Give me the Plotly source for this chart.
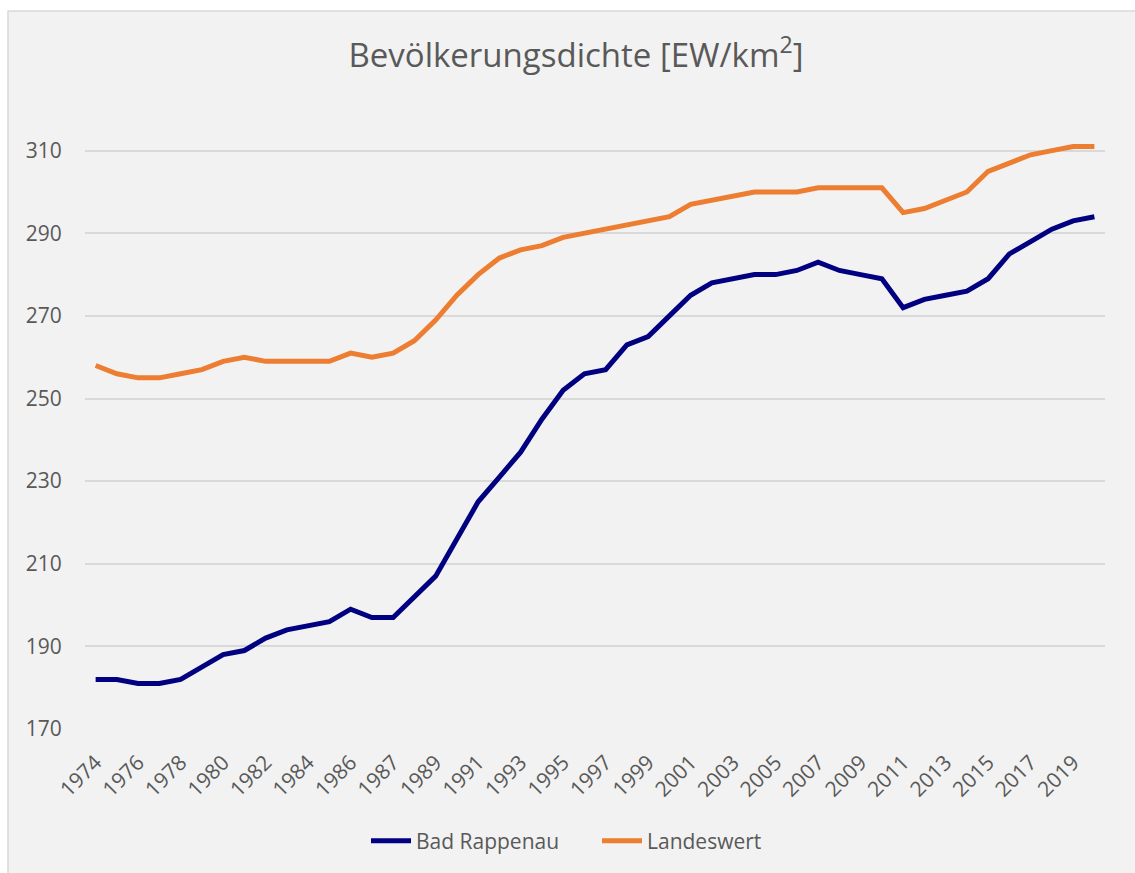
import plotly.graph_objects as go

# Category labels (index 13 is a second census-year entry between 1986 and 1987)
years = ["1974", "1975", "1976", "1977", "1978", "1979", "1980", "1981", "1982", "1983",
         "1984", "1985", "1986", "1987", "1987", "1988", "1989", "1990", "1991", "1992",
         "1993", "1994", "1995", "1996", "1997", "1998", "1999", "2000", "2001", "2002",
         "2003", "2004", "2005", "2006", "2007", "2008", "2009", "2010", "2011", "2012",
         "2013", "2014", "2015", "2016", "2017", "2018", "2019", "2020"]

bad_rappenau = [182, 182, 181, 181, 182, 185, 188, 189, 192, 194,
                195, 196, 199, 197, 197, 202, 207, 216, 225, 231,
                237, 245, 252, 256, 257, 263, 265, 270, 275, 278,
                279, 280, 280, 281, 283, 281, 280, 279, 272, 274,
                275, 276, 279, 285, 288, 291, 293, 294]

landeswert = [258, 256, 255, 255, 256, 257, 259, 260, 259, 259,
              259, 259, 261, 260, 261, 264, 269, 275, 280, 284,
              286, 287, 289, 290, 291, 292, 293, 294, 297, 298,
              299, 300, 300, 300, 301, 301, 301, 301, 295, 296,
              298, 300, 305, 307, 309, 310, 311, 311]

y_ticks = [170, 190, 210, 230, 250, 270, 290, 310]

title_text = "Bevölkerungsdichte [EW/km<sup>2</sup>]"

idx = list(range(len(years)))
tick_idx = idx[::2]
tick_txt = [years[i] for i in tick_idx]

FONT = "Open Sans"
TXT = "#595959"
W, H = 1135, 873
L, R, T, B = 85, 30, 130, 144
ymin, ymax = 170, 315

fig = go.Figure()
fig.add_trace(go.Scatter(x=idx, y=bad_rappenau, mode="lines", name="Bad Rappenau",
                         line=dict(color="#000080", width=5)))
fig.add_trace(go.Scatter(x=idx, y=landeswert, mode="lines", name="Landeswert",
                         line=dict(color="#ED7D31", width=5)))

pw = W - L - R
ph = H - T - B
# outer chart border (from x=8, y=11 in pixels to beyond the page edge)
x0 = (8 - L) / pw
x1 = (W + 10 - L) / pw
y1 = (H - B - 11) / ph
y0 = (H - B - (H + 10)) / ph
fig.add_shape(type="rect", xref="paper", yref="paper", x0=x0, x1=x1, y0=y0, y1=y1,
              fillcolor="#f2f2f2", line=dict(color="#d9d9d9", width=1.5), layer="below")

fig.update_layout(
    width=W, height=H,
    margin=dict(l=L, r=R, t=T, b=B),
    paper_bgcolor="white",
    plot_bgcolor="rgba(0,0,0,0)",
    font=dict(family=FONT, color=TXT),
    title=dict(text=title_text, x=(576 - L) / pw, xref="paper", xanchor="center",
               y=1 - 55 / H, yref="container", yanchor="middle",
               font=dict(family=FONT, size=33, color=TXT)),
    showlegend=True,
    legend=dict(orientation="h", x=(597 - L) / pw, xanchor="center",
                y=1 - 841 / H, yref="container", yanchor="middle",
                font=dict(family=FONT, size=21, color=TXT),
                bgcolor="rgba(0,0,0,0)", itemwidth=40, entrywidth=176),
    xaxis=dict(range=[-0.5, len(years) - 0.5], tickmode="array", tickvals=tick_idx,
               ticktext=tick_txt, tickangle=-45, showgrid=False, zeroline=False,
               showline=False, ticks="outside", ticklen=12, tickcolor="rgba(0,0,0,0)",
               tickfont=dict(family=FONT, size=21, color=TXT)),
    yaxis=dict(range=[ymin, ymax], tickmode="array", tickvals=y_ticks,
               showgrid=True, gridcolor="#d9d9d9", gridwidth=1.5, zeroline=False,
               showline=False, ticks="outside", ticklen=18, tickcolor="rgba(0,0,0,0)",
               tickfont=dict(family=FONT, size=21, color=TXT)),
)

fig.write_html("out.html", config={"displayModeBar": False},
               post_script="document.body.style.margin='0';")
